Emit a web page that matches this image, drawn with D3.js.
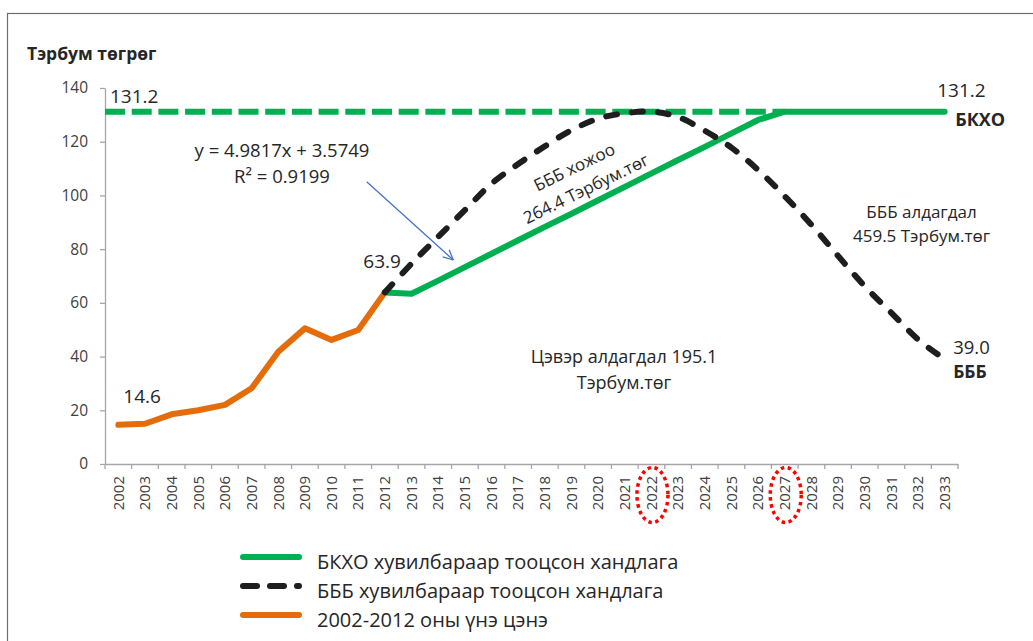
<!DOCTYPE html>
<html><head><meta charset="utf-8">
<script src="https://cdn.jsdelivr.net/npm/d3@7"></script>
<style>
body{margin:0;background:#fff;}
svg{display:block;font-family:"Open Sans","Noto Sans",sans-serif;}
</style>
</head><body>
<svg id="c" width="1033" height="641"></svg>
<script>
// ---------------- DATA ----------------
const years = ["2002","2003","2004","2005","2006","2007","2008","2009","2010","2011","2012","2013","2014","2015","2016","2017","2018","2019","2020","2021","2022","2023","2024","2025","2026","2027","2028","2029","2030","2031","2032","2033"];
const actualYears = ["2002","2003","2004","2005","2006","2007","2008","2009","2010","2011","2012"];
const actualValues = [14.6, 15.0, 18.5, 20.0, 22.0, 28.2, 41.8, 50.5, 46.2, 49.9, 63.9];
const forecastYears = ["2012","2013","2014","2015","2016","2017","2018","2019","2020","2021","2022","2023","2024","2025","2026","2027","2028","2029","2030","2031","2032","2033"];
const bkxoValues = [63.9, 63.4, 68.3, 73.3, 78.3, 83.3, 88.3, 93.2, 98.2, 103.2, 108.2, 113.2, 118.1, 123.1, 128.1, 131.2, 131.2, 131.2, 131.2, 131.2, 131.2, 131.2];
const bbbValues  = [63.9, 74.6, 84.6, 94.5, 104.4, 111.7, 118.3, 124.3, 128.6, 130.6, 131.2, 129.2, 124.1, 117.8, 109.5, 99.7, 89.1, 77.5, 66.2, 56.3, 46.4, 39.0];
const bkxoLevel = 131.2;
const bkxoLevelEndYear = "2027";
const yTicks = [0, 20, 40, 60, 80, 100, 120, 140];
const highlightYears = ["2022", "2027"];
const legendLabels = ["БКХО хувилбараар тооцсон хандлага", "БББ хувилбараар тооцсон хандлага", "2002-2012 оны үнэ цэнэ"];
const yTitle = "Тэрбум төгрөг";
const trendLines = ["y = 4.9817x + 3.5749", "R² = 0.9199"];
const gainLines = ["БББ хожоо", "264.4 Тэрбум.төг"];
const lossLines = ["БББ алдагдал", "459.5 Тэрбум.төг"];
const netLines = ["Цэвэр алдагдал 195.1", "Тэрбум.төг"];
const seriesNames = ["БКХО", "БББ"];

// ---------------- STYLE ----------------
const GREEN = "#00b050", BLACK = "#1e1e1e", ORANGE = "#e46c0a", AXIS = "#a6a6a6", TXT = "#262626";

const svg = d3.select("#c");
svg.append("rect").attr("width", 1033).attr("height", 641).attr("fill", "#fff");
// outer frame
svg.append("rect").attr("x", 7.5).attr("y", 13.5).attr("width", 1200).attr("height", 800)
  .attr("fill", "none").attr("stroke", "#6e6e6e").attr("stroke-width", 1.2);

const x = d3.scaleBand().domain(years).range([105, 958]).padding(0);
const bw = x.bandwidth();
const cx = d => x(d) + bw / 2;
const y = d3.scaleLinear().domain([0, 140]).range([464, 88]);

// Y axis
const yAx = svg.append("g").attr("transform", "translate(105,0)")
  .call(d3.axisLeft(y).tickValues(yTicks).tickSize(5).tickSizeOuter(0).tickPadding(12));
yAx.select(".domain").attr("stroke", AXIS).attr("stroke-width", 1.3);
yAx.selectAll(".tick line").attr("stroke", AXIS).attr("stroke-width", 1.3);
yAx.selectAll("text").attr("font-size", 15.5).attr("fill", "#404040").attr("font-family", "Open Sans");

// X axis (labels at centers, ticks at band edges)
const xAx = svg.append("g").attr("transform", `translate(0,${y(0)})`)
  .call(d3.axisBottom(x).tickSize(0).tickSizeOuter(0));
xAx.select(".domain").attr("stroke", AXIS).attr("stroke-width", 1.3);
xAx.selectAll("text").attr("font-size", 15).attr("fill", "#404040").attr("font-family", "Open Sans")
  .attr("transform", "rotate(-90)").attr("text-anchor", "end")
  .attr("x", -12).attr("y", 0).attr("dy", "0.35em");
const edges = years.map(d => x(d)).concat([x.range()[1]]);
svg.append("g").selectAll("line").data(edges).join("line")
  .attr("x1", d => d).attr("x2", d => d).attr("y1", y(0)).attr("y2", y(0) + 5)
  .attr("stroke", AXIS).attr("stroke-width", 1.3);

// highlight ellipses
svg.append("g").selectAll("ellipse").data(highlightYears).join("ellipse")
  .attr("cx", d => cx(d) + 1).attr("cy", y(0) + 31).attr("rx", 15.5).attr("ry", 27.5)
  .attr("fill", "none").attr("stroke", "#ff0000").attr("stroke-width", 3.5)
  .attr("stroke-dasharray", "3.5,3.5");

// Lines
const line = d3.line().x(d => cx(d[0])).y(d => y(d[1]));
const smooth = d3.line().x(d => cx(d[0])).y(d => y(d[1])).curve(d3.curveCatmullRom.alpha(0.5));

// dashed target level
svg.append("line")
  .attr("x1", x.range()[0]).attr("x2", cx(bkxoLevelEndYear))
  .attr("y1", y(bkxoLevel)).attr("y2", y(bkxoLevel))
  .attr("stroke", GREEN).attr("stroke-width", 6).attr("stroke-dasharray", "20,6.7");

svg.append("path").datum(forecastYears.map((d, i) => [d, bkxoValues[i]]))
  .attr("d", line).attr("fill", "none").attr("stroke", GREEN).attr("stroke-width", 6)
  .attr("stroke-linejoin", "round").attr("stroke-linecap", "round");

svg.append("path").datum(actualYears.map((d, i) => [d, actualValues[i]]))
  .attr("d", line).attr("fill", "none").attr("stroke", ORANGE).attr("stroke-width", 6)
  .attr("stroke-linejoin", "round").attr("stroke-linecap", "round");

svg.append("path").datum(forecastYears.map((d, i) => [d, bbbValues[i]]))
  .attr("d", smooth).attr("fill", "none").attr("stroke", BLACK).attr("stroke-width", 6)
  .attr("stroke-linecap", "round").attr("stroke-dasharray", "11,15");

// ---------------- TEXT ----------------
const T = (xx, yy, s, size, opts = {}) => {
  const t = svg.append("text").attr("x", xx).attr("y", yy).text(s)
    .attr("font-size", size).attr("fill", TXT)
    .attr("text-anchor", opts.anchor || "start")
    .attr("font-weight", opts.bold ? "bold" : "normal");
  if (opts.rot !== undefined) t.attr("transform", `rotate(${opts.rot},${xx},${yy})`);
  return t;
};

T(27, 60, yTitle, 17.5, {bold: true});

const first = actualYears[0], last = actualYears[actualYears.length - 1], end = forecastYears[forecastYears.length - 1];
T(cx(first) + 5, y(actualValues[0]) - 22, d3.format(".1f")(actualValues[0]), 19);
T(cx(last) + 16, y(actualValues[actualValues.length - 1]) - 24, d3.format(".1f")(actualValues[actualValues.length - 1]), 19, {anchor: "end"});
T(x.range()[0] + 5, y(bkxoLevel) - 9, d3.format(".1f")(bkxoLevel), 19);
T(cx(end) - 7.5, y(bkxoValues[bkxoValues.length - 1]) - 14.5, d3.format(".1f")(bkxoValues[bkxoValues.length - 1]), 19);
T(cx(end) + 10.5, y(bkxoValues[bkxoValues.length - 1]) + 14.5, seriesNames[0], 18, {bold: true});
T(cx(end) + 8.5, y(bbbValues[bbbValues.length - 1]) - 5, d3.format(".1f")(bbbValues[bbbValues.length - 1]), 18.5);
T(cx(end) + 8.5, y(bbbValues[bbbValues.length - 1]) + 18.5, seriesNames[1], 17.5, {bold: true});

// trend equation
T(282, 157, trendLines[0], 18.5, {anchor: "middle"});
T(282, 183, trendLines[1], 18.5, {anchor: "middle"});

// arrow
const ax1 = 366.7, ay1 = 181.7, ax2 = 453.3, ay2 = 260;
svg.append("line").attr("x1", ax1).attr("y1", ay1).attr("x2", ax2).attr("y2", ay2)
  .attr("stroke", "#4472c4").attr("stroke-width", 1.3);
const ang = Math.atan2(ay2 - ay1, ax2 - ax1);
[0.45, -0.45].forEach(o => {
  svg.append("line").attr("x1", ax2).attr("y1", ay2)
    .attr("x2", ax2 - 11 * Math.cos(ang + o)).attr("y2", ay2 - 11 * Math.sin(ang + o))
    .attr("stroke", "#4472c4").attr("stroke-width", 1.3);
});

// gain label rotated
T(577, 172.5, gainLines[0], 17, {anchor: "middle", rot: -26});
T(588.6, 194.1, gainLines[1], 17, {anchor: "middle", rot: -26});

// loss label
T(921.5, 218, lossLines[0], 17, {anchor: "middle"});
T(921.5, 242, lossLines[1], 17, {anchor: "middle"});

// net loss
T(624, 363, netLines[0], 18, {anchor: "middle"});
T(624, 389, netLines[1], 18, {anchor: "middle"});

// ---------------- LEGEND ----------------
const lg = svg.append("g");
const rows = [557, 586, 615];
const styles = [
  {c: GREEN, dash: null},
  {c: BLACK, dash: "14,13"},
  {c: ORANGE, dash: null}
];
legendLabels.forEach((lab, i) => {
  const l = lg.append("line").attr("x1", 243).attr("x2", 299).attr("y1", rows[i]).attr("y2", rows[i])
    .attr("stroke", styles[i].c).attr("stroke-width", 6).attr("stroke-linecap", "round");
  if (styles[i].dash) l.attr("stroke-dasharray", styles[i].dash);
  lg.append("text").attr("x", 317).attr("y", rows[i] + 12).text(lab)
    .attr("font-size", 20).attr("fill", TXT);
});
</script>
</body></html>
